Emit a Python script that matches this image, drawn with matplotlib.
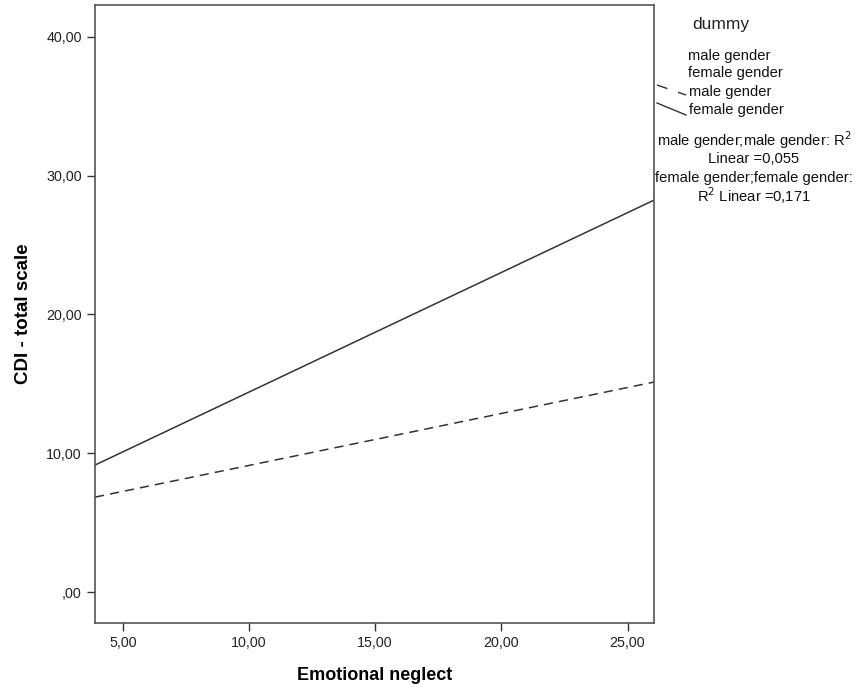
import matplotlib
matplotlib.use("Agg")
import matplotlib.pyplot as plt
from matplotlib.lines import Line2D

plt.rcParams['font.family'] = ['Liberation Sans', 'DejaVu Sans']

# Data (fit line endpoints)
x_ends = [3.9, 26.05]
male_fit = [6.84, 15.13]
female_fit = [9.15, 28.24]
x_ticks = [5, 10, 15, 20, 25]
x_ticklabels = ["5,00", "10,00", "15,00", "20,00", "25,00"]
y_ticks = [0, 10, 20, 30, 40]
y_ticklabels = [",00", "10,00", "20,00", "30,00", "40,00"]

fig = plt.figure(figsize=(8.6, 6.88), dpi=100)
ax = fig.add_axes([95/860, 1-623/688, (654-95)/860, (623-5)/688])

ax.plot(x_ends, male_fit, color='#333333', lw=1.1, ls=(0, (6, 4)))
ax.plot(x_ends, female_fit, color='#333333', lw=1.1, ls='-')

ax.set_xlim(3.9, 26.05)
ax.set_ylim(-2.23, 42.3)
ax.set_xticks(x_ticks)
ax.set_xticklabels(x_ticklabels)
ax.set_yticks(y_ticks)
ax.set_yticklabels(y_ticklabels)
ax.tick_params(axis='both', direction='out', length=6, width=1, color='#333333',
               labelsize=10.3, labelcolor='#222222')
for s in ax.spines.values():
    s.set_color('#555555')
    s.set_linewidth(1.2)

ax.set_xlabel("Emotional neglect", fontsize=13, fontweight='bold', labelpad=12)
ax.set_ylabel("CDI - total scale", fontsize=13.5, fontweight='bold', labelpad=10)

# Legend area
def fx(px):
    return px / 860
def fy(py):
    return 1 - py / 688

lc = '#111111'
fs = 10.6
fig.text(fx(721), fy(25), "dummy", fontsize=12.5, ha='center', va='center', color='#222222')
fig.text(fx(688), fy(56), "male gender", fontsize=fs, ha='left', va='center', color=lc)
fig.text(fx(688), fy(73), "female gender", fontsize=fs, ha='left', va='center', color=lc)
fig.text(fx(689), fy(92), "male gender", fontsize=fs, ha='left', va='center', color=lc)
fig.text(fx(689), fy(110), "female gender", fontsize=fs, ha='left', va='center', color=lc)
fig.add_artist(Line2D([fx(657), fx(686)], [fy(85), fy(95)], transform=fig.transFigure,
                      color='#333333', lw=1, ls=(0, (8, 8))))
fig.add_artist(Line2D([fx(657), fx(686)], [fy(103), fy(115)], transform=fig.transFigure,
                      color='#333333', lw=1, ls='-'))
fig.text(fx(754), fy(140), "male gender;male gender: R$^2$", fontsize=fs, ha='center', va='center', color=lc)
fig.text(fx(754), fy(159), "Linear =0,055", fontsize=fs, ha='center', va='center', color=lc)
fig.text(fx(754), fy(178), "female gender;female gender:", fontsize=fs, ha='center', va='center', color=lc)
fig.text(fx(754), fy(196), "R$^2$ Linear =0,171", fontsize=fs, ha='center', va='center', color=lc)

fig.savefig("out.png", dpi=100)
